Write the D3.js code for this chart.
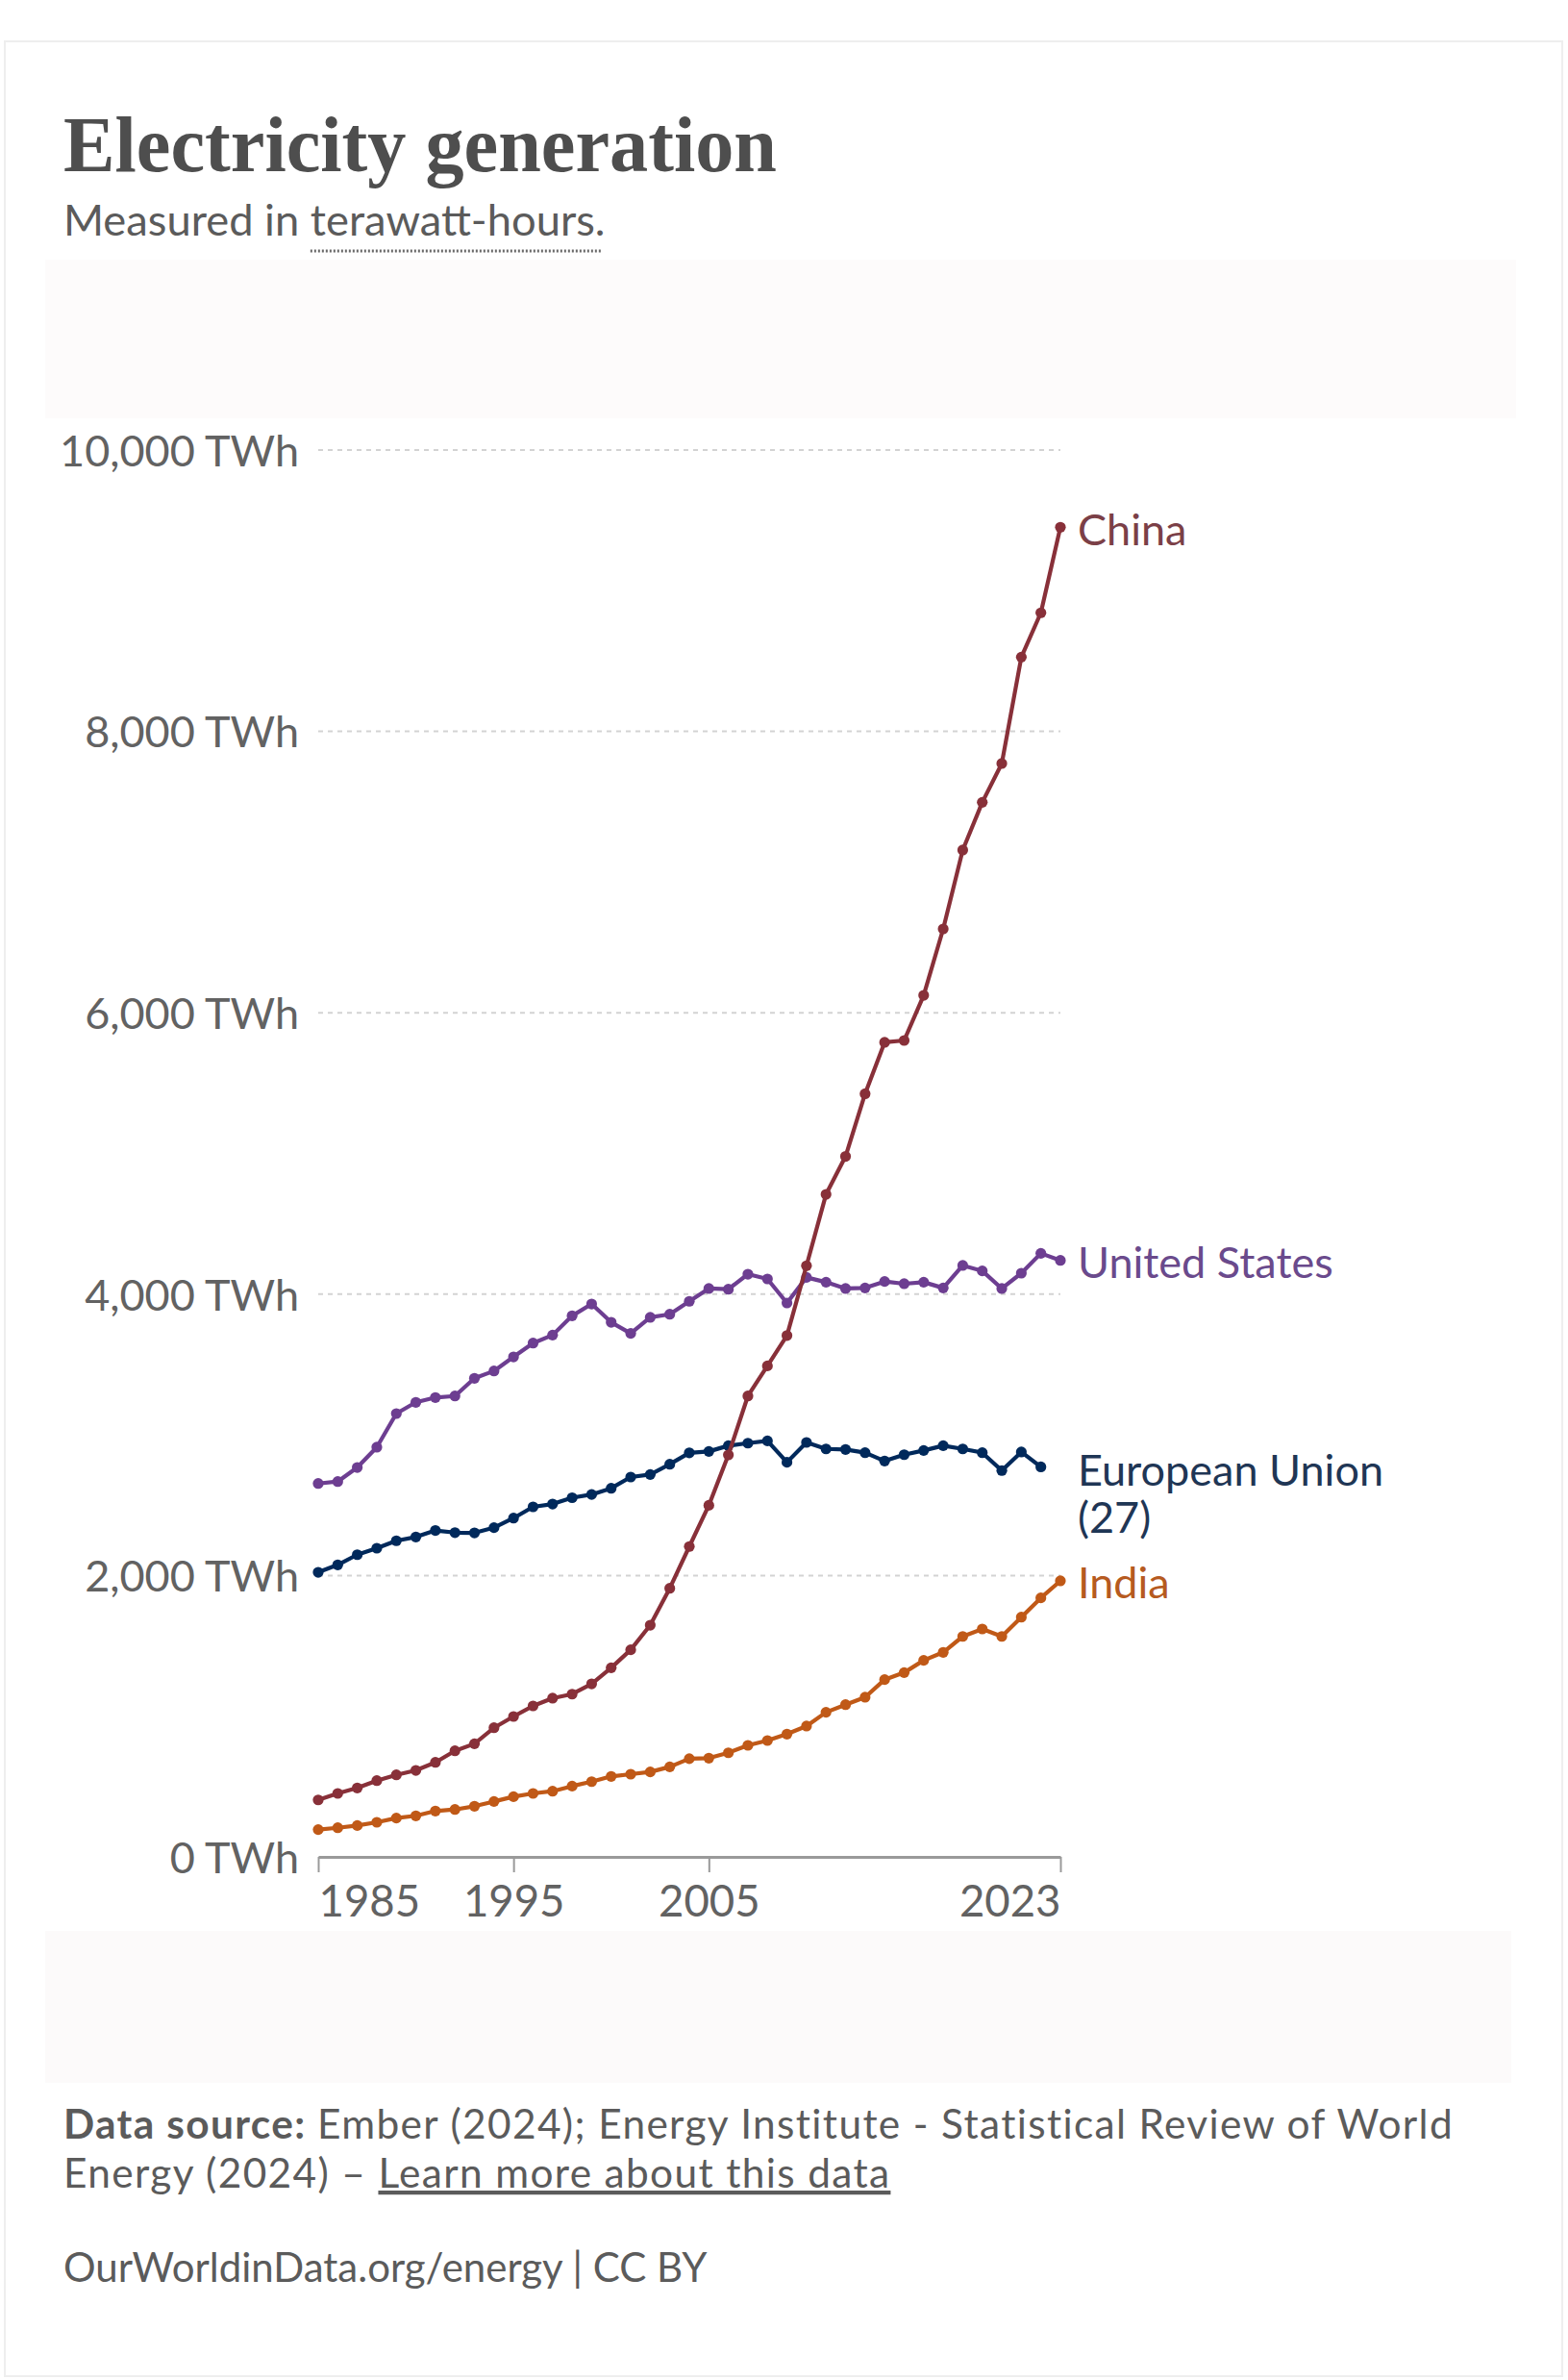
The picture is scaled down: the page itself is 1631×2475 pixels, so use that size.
<!DOCTYPE html>
<html>
<head>
<meta charset="utf-8">
<script src="https://cdn.jsdelivr.net/npm/d3@7"></script>
<style>
  html, body { margin: 0; padding: 0; background: #ffffff; }
  svg { display: block; }
</style>
</head>
<body>
<svg id="chart" width="1631" height="2475"></svg>
<script>
// ---------------- DATA ----------------
const years = [1985,1986,1987,1988,1989,1990,1991,1992,1993,1994,1995,1996,1997,1998,1999,
               2000,2001,2002,2003,2004,2005,2006,2007,2008,2009,2010,2011,2012,2013,2014,
               2015,2016,2017,2018,2019,2020,2021,2022,2023];

const china = [405,451,490,542,583,615,672,754,804,918,998,1073,1128,1157,1230,
               1344,1472,1647,1909,2206,2499,2857,3276,3490,3706,4202,4709,4979,5424,5790,
               5803,6124,6596,7157,7496,7772,8528,8843,9451];

const unitedStates = [2654,2668,2768,2912,3151,3231,3265,3276,3402,3454,3554,3652,3709,3846,3930,
               3800,3721,3835,3857,3949,4040,4035,4142,4108,3937,4119,4085,4040,4044,4090,
               4074,4085,4044,4204,4165,4040,4149,4290,4240];

const europeanUnion = [2023,2076,2148,2194,2247,2274,2320,2305,2303,2340,2408,2488,2508,2553,2576,
               2620,2700,2718,2791,2872,2882,2923,2941,2957,2805,2946,2900,2896,2873,2814,
               2859,2889,2923,2900,2873,2746,2878,2772,null];

const india = [194,207,223,246,276,292,326,337,360,394,428,451,467,503,535,
               572,588,604,640,698,702,740,793,827,873,930,1028,1082,1135,1260,
               1310,1397,1454,1567,1620,1567,1704,1841,1962];

const seriesNames = ["China", "United States", "European Union (27)", "India"];
const yTicks = [0, 2000, 4000, 6000, 8000, 10000];
const xTicks = [1985, 1995, 2005, 2023];

// ---------------- STYLE ----------------
const colors = {
  "China": "#883039",
  "United States": "#6D3E91",
  "European Union (27)": "#00295B",
  "India": "#C05917"
};
const labelColors = {
  "China": "#7b3f47",
  "United States": "#6a4a8c",
  "European Union (27)": "#1f3655",
  "India": "#b65a20"
};
const textGray = "#5b5b5b";
const sans = "Lato, 'Open Sans', sans-serif";

const series = [
  { name: "China", values: china },
  { name: "United States", values: unitedStates },
  { name: "European Union (27)", values: europeanUnion },
  { name: "India", values: india }
].map(s => ({
  name: s.name,
  points: years.map((yr, i) => ({ year: yr, value: s.values[i] })).filter(p => p.value != null)
}));

const svg = d3.select("#chart");

// card / faint panels
svg.append("rect").attr("x", 0).attr("y", 0).attr("width", 1631).attr("height", 2475).attr("fill", "#ffffff");
svg.append("rect").attr("x", 5).attr("y", 43).attr("width", 1620).attr("height", 2428)
  .attr("fill", "#ffffff").attr("stroke", "#eeeeee").attr("stroke-width", 2);
svg.append("rect").attr("x", 47).attr("y", 270).attr("width", 1530).attr("height", 165).attr("fill", "#fdfbfb");
svg.append("rect").attr("x", 47).attr("y", 2008).attr("width", 1525).attr("height", 158).attr("fill", "#fcfafa");

// ---------------- TITLE ----------------
svg.append("text")
  .attr("x", 66).attr("y", 178)
  .attr("font-family", "'Liberation Serif', 'DejaVu Serif', serif")
  .attr("font-weight", 700)
  .attr("font-size", 82)
  .attr("fill", "#4e4e4e")
  .attr("textLength", 742).attr("lengthAdjust", "spacingAndGlyphs")
  .text("Electricity generation");

const sub = svg.append("text")
  .attr("x", 66).attr("y", 245)
  .attr("font-family", sans).attr("font-size", 45.3)
  .attr("fill", textGray);
sub.append("tspan").text("Measured in ");
sub.append("tspan").text("terawatt-hours.");
{
  const start = sub.node().getSubStringLength(0, "Measured in ".length);
  const linkLen = sub.node().getSubStringLength("Measured in ".length, "terawatt-hours.".length);
  svg.append("line")
    .attr("x1", 66 + start).attr("x2", 66 + start + linkLen - 4)
    .attr("y1", 261).attr("y2", 261)
    .attr("stroke", "#6a6a6a").attr("stroke-width", 3)
    .attr("stroke-dasharray", "2,2");
}

// ---------------- SCALES ----------------
const x = d3.scaleLinear().domain([1985, 2023]).range([331, 1103]);
const y = d3.scaleLinear().domain([0, 10000]).range([1931, 468]);

// grid lines
const grid = svg.append("g");
grid.selectAll("line").data(yTicks.filter(d => d > 0)).join("line")
  .attr("x1", x(1985)).attr("x2", x(2023))
  .attr("y1", d => y(d)).attr("y2", d => y(d))
  .attr("stroke", "#d3d3d3").attr("stroke-width", 2)
  .attr("stroke-dasharray", "5,5");

// y axis labels
const yAxis = d3.axisLeft(y).tickValues(yTicks).tickSize(0).tickPadding(20)
  .tickFormat(d => d3.format(",")(d) + " TWh");
const yG = svg.append("g").attr("transform", `translate(${x(1985)},0)`).call(yAxis);
yG.select(".domain").remove();
yG.selectAll("text")
  .attr("font-family", sans).attr("font-size", 45).attr("fill", "#626262")
  .attr("dy", "0.36em");

// x axis
const xAxis = d3.axisBottom(x).tickValues(xTicks).tickSize(16).tickPadding(14)
  .tickFormat(d3.format("d")).tickSizeOuter(0);
const xG = svg.append("g").attr("transform", `translate(0,${y(0)})`).call(xAxis);
xG.select(".domain").attr("stroke", "#9a9a9a").attr("stroke-width", 3);
xG.selectAll(".tick line").attr("stroke", "#9a9a9a").attr("stroke-width", 2);
xG.selectAll(".tick text")
  .attr("font-family", sans).attr("font-size", 45.5).attr("fill", "#626262")
  .attr("dy", "0.71em")
  .attr("text-anchor", d => d === 1985 ? "start" : (d === 2023 ? "end" : "middle"));

// ---------------- LINES ----------------
const line = d3.line().x(d => x(d.year)).y(d => y(d.value));
const drawOrder = ["India", "European Union (27)", "United States", "China"];
drawOrder.forEach(name => {
  const s = series.find(t => t.name === name);
  const g = svg.append("g");
  g.append("path").datum(s.points)
    .attr("d", line)
    .attr("fill", "none")
    .attr("stroke", colors[name])
    .attr("stroke-width", 4.2)
    .attr("stroke-linejoin", "round");
  g.selectAll("circle").data(s.points).join("circle")
    .attr("cx", d => x(d.year)).attr("cy", d => y(d.value))
    .attr("r", 5.6)
    .attr("fill", colors[name]);
});

// ---------------- SERIES LABELS ----------------
const labelX = 1121;
series.forEach(s => {
  const last = s.points[s.points.length - 1];
  const t = svg.append("text")
    .attr("font-family", sans).attr("font-size", 45)
    .attr("fill", labelColors[s.name]);
  if (s.name === "European Union (27)") {
    t.attr("x", labelX).attr("y", y(last.value) + 3).attr("dy", "0.36em");
    t.append("tspan").attr("x", labelX).text("European Union");
    t.append("tspan").attr("x", labelX).attr("dy", 49).text("(27)");
  } else {
    t.attr("x", labelX).attr("y", y(last.value) + 2).attr("dy", "0.36em").text(s.name);
  }
});

// ---------------- FOOTER ----------------
const footSize = 42.4;
const f1 = svg.append("text").attr("x", 66).attr("y", 2224)
  .attr("font-family", sans).attr("font-size", footSize).attr("fill", textGray)
  .attr("letter-spacing", 1.35);
f1.append("tspan").attr("font-weight", 700).text("Data source: ");
f1.append("tspan").text("Ember (2024); Energy Institute - Statistical Review of World");

const f2 = svg.append("text").attr("x", 66).attr("y", 2275)
  .attr("font-family", sans).attr("font-size", footSize).attr("fill", textGray)
  .attr("letter-spacing", 1.35);
f2.append("tspan").text("Energy (2024) \u2013 ");
f2.append("tspan").attr("text-decoration", "underline").text("Learn more about this data");

svg.append("text").attr("x", 66).attr("y", 2373)
  .attr("font-family", sans).attr("font-size", 42).attr("fill", textGray)
  .text("OurWorldinData.org/energy | CC BY");
</script>
</body>
</html>
